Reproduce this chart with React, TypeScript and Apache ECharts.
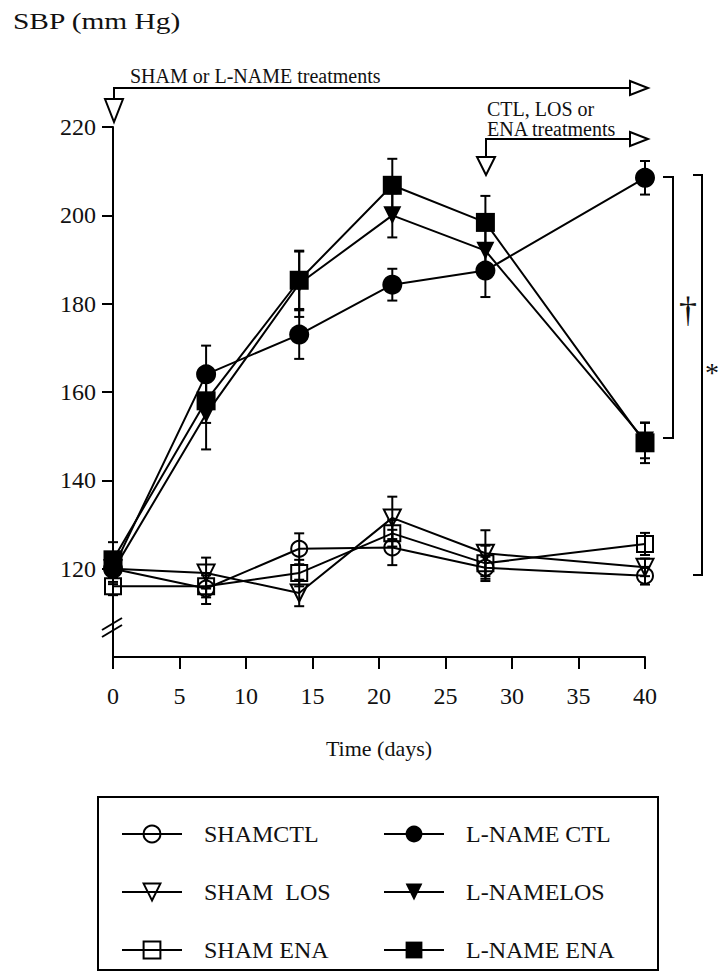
import React, { useEffect, useRef } from "react";
import * as echarts from "echarts";

const FONT = '"Liberation Serif", "Times New Roman", "DejaVu Serif", serif';

const days = [0, 7, 14, 21, 28, 40];
const yTicks = [100, 120, 140, 160, 180, 200, 220];

const seriesNames = ["SHAMCTL", "SHAM  LOS", "SHAM ENA", "L-NAME CTL", "L-NAMELOS", "L-NAME ENA"];

const shamCtl = [120, 115.5, 124.5, 124.8, 120.2, 118.4];
const shamCtlErr = [2, 3.5, 3.5, 4, 2.5, 2];
const shamLos = [120, 119, 114.5, 131.5, 123.5, 120.3];
const shamLosErr = [2, 3.5, 3, 4.8, 5.2, 2];
const shamEna = [116, 116, 119, 128, 121.2, 125.6];
const shamEnaErr = [2, 2.5, 3, 3, 4, 2.5];
const lnameCtl = [120, 164, 173, 184.3, 187.5, 208.5];
const lnameCtlErr = [3, 6.5, 5.5, 3.6, 6, 3.8];
const lnameLos = [119.5, 155, 184.5, 200, 192, 149];
const lnameLosErr = [3, 8, 7.5, 5, 6, 4];
const lnameEna = [122, 158, 185.3, 206.8, 198.4, 148.5];
const lnameEnaErr = [4, 5, 6.5, 6, 6, 4.6];

const seriesValues = [shamCtl, shamLos, shamEna, lnameCtl, lnameLos, lnameEna];
const seriesErrors = [shamCtlErr, shamLosErr, shamEnaErr, lnameCtlErr, lnameLosErr, lnameEnaErr];
const seriesSymbols = ["circle", "triangle", "rect", "circle", "triangle", "rect"];
const seriesRotate = [0, 180, 0, 0, 180, 0];
const seriesFilled = [false, false, false, true, true, true];
const seriesSize = [16, 17, 16, 20, 18, 19];

export default function App() {
  const ref = useRef<HTMLDivElement>(null);
  useEffect(() => {
    if (!ref.current) return;
    const chart = echarts.init(ref.current, null, { renderer: "svg" });

    const lineSeries: any[] = seriesNames.map((name, i) => ({
      type: "line",
      name,
      data: days.map((d, j) => [d, seriesValues[i][j]]),
      symbol: seriesSymbols[i],
      symbolRotate: seriesRotate[i],
      symbolSize: seriesSize[i],
      showAllSymbol: true,
      z: i < 3 ? 3 : 4,
      lineStyle: { color: "#000", width: 2 },
      itemStyle: {
        color: seriesFilled[i] ? "#000" : "rgba(255,255,255,0)",
        borderColor: "#000",
        borderWidth: seriesFilled[i] ? 0 : 2,
      },
      emphasis: { disabled: true },
      clip: false,
    }));

    const errSeries: any[] = seriesNames.map((name, i) => ({
      type: "custom",
      name: "err " + name,
      z: 2,
      clip: false,
      data: days.map((d, j) => [d, seriesValues[i][j], seriesErrors[i][j]]),
      encode: { x: 0, y: 1 },
      renderItem: (params: any, api: any) => {
        const x = api.value(0);
        const y = api.value(1);
        const e = api.value(2);
        const top = api.coord([x, y + e]);
        const bot = api.coord([x, y - e]);
        const w = 5;
        const st = { stroke: "#000", lineWidth: 2 };
        return {
          type: "group",
          children: [
            { type: "line", shape: { x1: top[0], y1: top[1], x2: bot[0], y2: bot[1] }, style: st },
            { type: "line", shape: { x1: top[0] - w, y1: top[1], x2: top[0] + w, y2: top[1] }, style: st },
            { type: "line", shape: { x1: bot[0] - w, y1: bot[1], x2: bot[0] + w, y2: bot[1] }, style: st },
          ],
        };
      },
    }));

    const legendCommon = {
      orient: "vertical",
      itemWidth: 60,
      itemHeight: 21,
      itemGap: 34,
      selectedMode: false,
      textStyle: { fontFamily: FONT, fontSize: 24, color: "#111", lineHeight: 24, padding: [0, 0, 0, 17] },
    };

    const stroke = { stroke: "#000", lineWidth: 2, fill: "none" };
    const openTri = { stroke: "#000", lineWidth: 2, fill: "#fff" };

    chart.setOption({
      animation: false,
      backgroundColor: "#fff",
      grid: { left: 113, right: 76, top: 127, bottom: 316, containLabel: false },
      xAxis: {
        type: "value",
        min: 0,
        max: 40,
        interval: 5,
        name: "Time (days)",
        nameLocation: "middle",
        nameGap: 80,
        nameTextStyle: { fontFamily: FONT, fontSize: 22, color: "#111" },
        axisLine: { show: true, onZero: false, lineStyle: { color: "#000", width: 2 } },
        axisTick: { show: true, length: 12, lineStyle: { color: "#000", width: 2 } },
        axisLabel: { fontFamily: FONT, fontSize: 24, color: "#111", margin: 27 },
        splitLine: { show: false },
      },
      yAxis: {
        type: "value",
        min: yTicks[0],
        max: yTicks[yTicks.length - 1],
        interval: 20,
        axisLine: { show: true, onZero: false, lineStyle: { color: "#000", width: 2 } },
        axisTick: { show: true, length: 11, lineStyle: { color: "#000", width: 2 } },
        axisLabel: { fontFamily: FONT, fontSize: 24, color: "#111", margin: 17, showMinLabel: false },
        splitLine: { show: false },
      },
      legend: [
        { ...legendCommon, data: seriesNames.slice(0, 3), left: 116, top: 817 },
        { ...legendCommon, data: seriesNames.slice(3), left: 378, top: 817 },
      ],
      series: [...errSeries, ...lineSeries],
      graphic: [
        {
          type: "text",
          x: 13,
          y: 21,
          scaleX: 1.28,
          style: { text: "SBP (mm Hg)", font: `23px ${FONT}`, fill: "#111", verticalAlign: "middle" },
        },
        // SHAM or L-NAME annotation
        {
          type: "text",
          x: 130,
          y: 76,
          style: { text: "SHAM or L-NAME treatments", font: `20px ${FONT}`, fill: "#111", verticalAlign: "middle" },
        },
        { type: "polyline", shape: { points: [[114, 98], [114, 88], [630, 88]] }, style: stroke },
        { type: "polygon", shape: { points: [[630, 81], [648, 88], [630, 95]] }, style: openTri },
        { type: "polygon", shape: { points: [[105, 99], [123, 99], [114, 122]] }, style: openTri },
        // CTL, LOS or ENA annotation
        {
          type: "text",
          x: 487,
          y: 109,
          style: { text: "CTL, LOS or", font: `20px ${FONT}`, fill: "#111", verticalAlign: "middle" },
        },
        {
          type: "text",
          x: 487,
          y: 129,
          style: { text: "ENA treatments", font: `20px ${FONT}`, fill: "#111", verticalAlign: "middle" },
        },
        { type: "polyline", shape: { points: [[486, 157], [486, 139], [630, 139]] }, style: stroke },
        { type: "polygon", shape: { points: [[630, 132], [648, 139], [630, 146]] }, style: openTri },
        { type: "polygon", shape: { points: [[477, 157], [495, 157], [486, 175]] }, style: openTri },
        // axis break
        { type: "line", shape: { x1: 102, y1: 630, x2: 122, y2: 618 }, style: stroke },
        { type: "line", shape: { x1: 102, y1: 637, x2: 122, y2: 625 }, style: stroke },
        // dagger bracket
        { type: "polyline", shape: { points: [[663, 177], [673, 177], [673, 438], [663, 438]] }, style: stroke },
        {
          type: "text",
          x: 688,
          y: 310,
          style: { text: "†", font: `36px ${FONT}`, fill: "#111", align: "center", verticalAlign: "middle" },
        },
        // asterisk bracket
        { type: "polyline", shape: { points: [[693, 175], [702, 175], [702, 575], [693, 575]] }, style: stroke },
        {
          type: "text",
          x: 712,
          y: 372,
          style: { text: "*", font: `28px ${FONT}`, fill: "#111", align: "center", verticalAlign: "middle" },
        },
        // legend box
        {
          type: "rect",
          shape: { x: 98, y: 797, width: 560, height: 173 },
          style: { stroke: "#000", lineWidth: 2, fill: "none" },
          z: -1,
        },
      ],
    });

    return () => chart.dispose();
  }, []);

  return (
    <div
      ref={ref}
      style={{ position: "absolute", left: 0, top: 0, width: 721, height: 973, background: "#fff" }}
    />
  );
}
